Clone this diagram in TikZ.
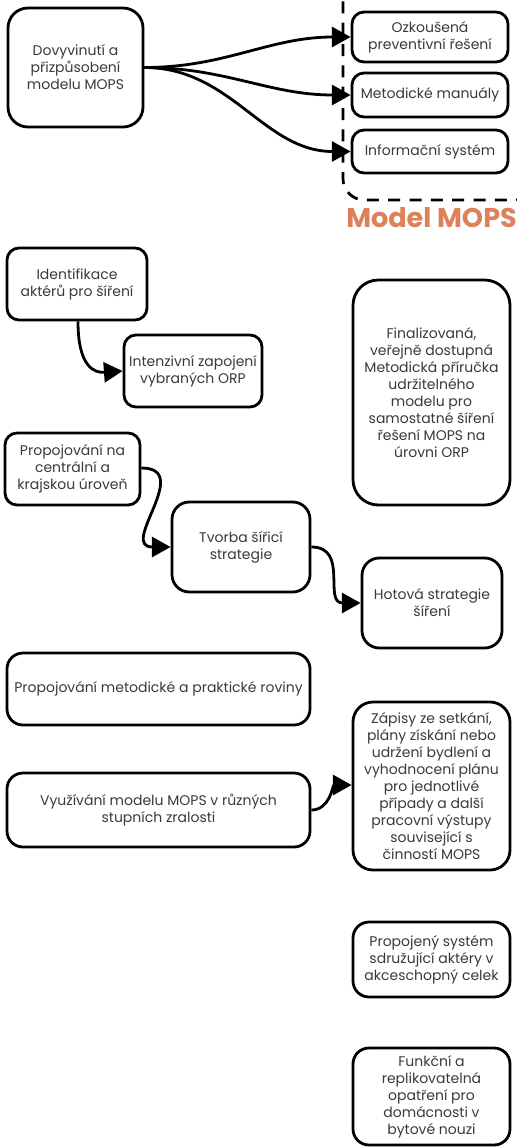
\documentclass[tikz,border=0pt]{standalone}
\usepackage{fontspec}
\setmainfont{Poppins}
\usetikzlibrary{arrows.meta}
\definecolor{txt}{HTML}{3A3A3A}
\definecolor{mopsorange}{RGB}{222,128,88}
\tikzset{
  box/.style={draw=black, line width=2.1pt, rounded corners=9pt, inner sep=0pt, align=center,
    text=txt, font=\fontsize{10.5}{12.7}\selectfont, fill=white},
  conn/.style={line width=2.1pt, -{Triangle[length=14pt,width=15pt]}},
  dashbox/.style={draw=black, line width=2.1pt, dash pattern=on 9pt off 7pt, rounded corners=16pt},
}
\begin{document}
\begin{tikzpicture}[x=0.75pt,y=-0.75pt]
\useasboundingbox (0,0) rectangle (517,1147);
\fill[white] (0,0) rectangle (517,1147);

% Model MOPS group
\draw[dashbox] (343,-20) rectangle (535,200);
\node[font=\fontsize{20.3}{21}\selectfont\bfseries, text=mopsorange, anchor=west, inner sep=0pt] (mopslabel) at (346,218) {Model MOPS};

\node[box, rounded corners=15pt, minimum width=101.25pt, minimum height=89.25pt] (A) at (75.5,67.5) {Dovyvinutí a\\přizpůsobení\\modelu MOPS};
\node[box, minimum width=117pt, minimum height=37.5pt] (O1) at (430,37) {Ozkoušená\\preventivní řešení};
\node[box, minimum width=117pt, minimum height=33pt] (O2) at (430,95) {Metodické manuály};
\node[box, minimum width=117pt, minimum height=32.25pt] (O3) at (430,151.5) {Informační systém};

\draw[conn] (A.east) to[out=0,in=180] (O1.west);
\draw[conn] (A.east) to[out=0,in=180] (O2.west);
\draw[conn] (A.east) to[out=0,in=180] (O3.west);

\node[box, minimum width=105pt, minimum height=54pt] (I1) at (77,284) {Identifikace\\aktérů pro šíření};
\node[box, minimum width=103.5pt, minimum height=54pt] (I2) at (193,371) {Intenzivní zapojení\\vybraných ORP};
\draw[conn] (I1.south -| 78,0) .. controls (78,368) and (95,373) .. (I2.west);

\node[box, rounded corners=19pt, minimum width=117.75pt, minimum height=168.75pt] (F) at (431.5,392.5) {Finalizovaná,\\veřejně dostupná\\Metodická příručka\\udržitelného\\modelu pro\\samostatné šíření\\řešení MOPS na\\úrovni ORP};

\node[box, minimum width=101.25pt, minimum height=54pt] (P1) at (72.5,469) {Propojování na\\centrální a\\krajskou úroveň};
\node[box, rounded corners=13pt, minimum width=103.5pt, minimum height=67.5pt] (T) at (241,547) {Tvorba šířicí\\strategie};
\node[box, rounded corners=13pt, minimum width=105pt, minimum height=67.5pt] (H) at (432,603) {Hotová strategie\\šíření};
\draw[conn] (P1.east |- 0,468) to[out=0,in=180,looseness=1.6] (T.west);
\draw[conn] (T.east) to[out=0,in=180,looseness=1.3] (H.west);

\node[box, rounded corners=12pt, minimum width=227.25pt, minimum height=54pt] (P2) at (158.5,689) {Propojování metodické a praktické roviny};
\node[box, rounded corners=12pt, minimum width=227.25pt, minimum height=55.5pt] (V) at (158.5,810) {Využívání modelu MOPS v různých\\stupních zralosti};
\node[box, rounded corners=15pt, minimum width=117.75pt, minimum height=126pt] (Z) at (431.5,786) {Zápisy ze setkání,\\plány získání nebo\\udržení bydlení a\\vyhodnocení plánu\\pro jednotlivé\\případy a další\\pracovní výstupy\\související s\\činností MOPS};
\draw[conn] (V.east) to[out=0,in=180] (Z.west |- 0,785);

\node[box, rounded corners=12pt, minimum width=117.75pt, minimum height=56.25pt] (S) at (431.5,959.5) {Propojený systém\\sdružující aktéry v\\akceschopný celek};
\node[box, rounded corners=12pt, minimum width=117.75pt, minimum height=72.75pt] (K) at (431.5,1096.5) {Funkční a\\replikovatelná\\opatření pro\\domácnosti v\\bytové nouzi};
\end{tikzpicture}
\end{document}
